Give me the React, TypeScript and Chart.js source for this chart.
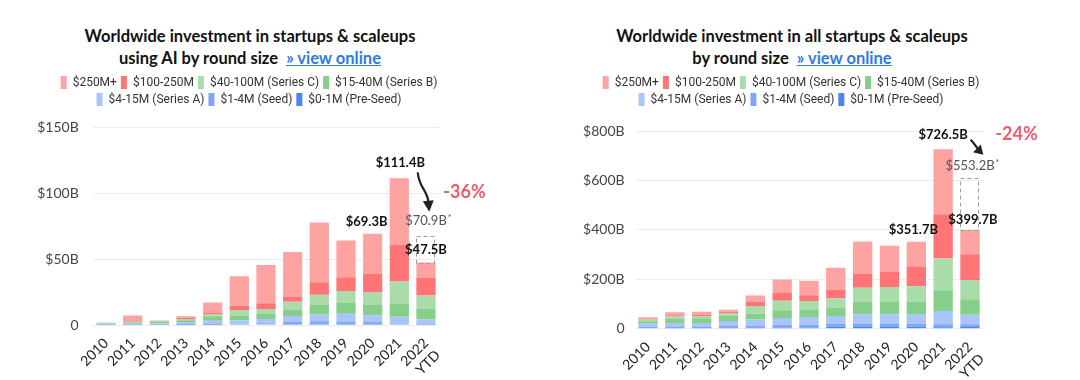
import React, { useEffect, useRef } from 'react';
import { Chart, registerables } from 'chart.js';

Chart.register(...registerables);

// ---------- DATA ----------
const years: (string | string[])[] = ['2010', '2011', '2012', '2013', '2014', '2015', '2016', '2017', '2018', '2019', '2020', '2021', ['2022', 'YTD']];

// legend order is the reverse of the stacking order (bottom segment first)
const seriesNames = ['$0-1M (Pre-Seed)', '$1-4M (Seed)', '$4-15M (Series A)', '$15-40M (Series B)', '$40-100M (Series C)', '$100-250M', '$250M+'];
const seriesColors = ['#4C84F0', '#7EA7F6', '#A9C5FA', '#86CF8B', '#A9DCAA', '#FF7474', '#FFA2A2'];

// AI startups & scaleups ($B)
const aiPreSeed = [0.1, 0.1, 0.1, 0.2, 0.2, 0.3, 0.4, 0.7, 1.0, 1.0, 0.9, 0.4, 0.1];
const aiSeed = [0.3, 0.3, 0.3, 0.6, 0.6, 0.7, 1.0, 1.5, 1.8, 1.3, 1.5, 0.8, 0.2];
const aiSeriesA = [0.8, 0.5, 0.7, 1.5, 2.5, 2.4, 3.1, 4.6, 5.1, 6.2, 5.1, 5.1, 4.1];
const aiSeriesB = [0.4, 0.7, 1.1, 1.3, 3.3, 3.6, 3.8, 4.6, 7.2, 8.2, 7.7, 10.3, 7.7];
const aiSeriesC = [0.3, 0.8, 1.1, 1.0, 1.3, 4.3, 3.8, 6.2, 7.9, 9.2, 9.5, 16.4, 10.3];
const ai100to250 = [0, 0.6, 0.2, 1.0, 1.5, 3.2, 4.4, 4.1, 9.5, 10.3, 14.1, 27.9, 13.3];
const ai250plus = [0, 4.3, 0, 1.0, 7.6, 22.5, 29.0, 33.8, 45.4, 27.9, 30.5, 50.5, 11.8];
const aiYTicks = [0, 50, 100, 150];
const aiTotalLabels = ['$111.4B', '$69.3B', '$47.5B'];
const aiTotals = [111.4, 69.3, 47.5];
const aiProjectionLabel = '$70.9B';
const aiProjectionBoxTop = 67.8;
const aiChangeLabel = '-36%';

// All startups & scaleups ($B)
const allPreSeed = [2, 3, 3, 4, 4, 4, 4, 8, 7, 7, 8, 6, 7];
const allSeed = [6, 5.4, 4, 6.8, 8, 12, 12, 11, 12, 12, 12, 12, 11];
const allSeriesA = [12, 15, 16, 20, 25.6, 27, 31, 32, 39, 39, 36.5, 54, 38];
const allSeriesB = [10, 16, 19, 23, 24.3, 32, 28.4, 35, 51, 50, 53, 84, 63.5];
const allSeriesC = [7, 9.5, 9.5, 8, 29.7, 38, 36.5, 36.5, 57, 61, 62, 128, 78];
const all100to250 = [3, 5.4, 5.4, 6.8, 17.6, 31, 23, 36.5, 55, 62, 80, 179.5, 104];
const all250plus = [6, 12, 12, 8, 25.6, 55, 59.4, 88, 132, 105, 100.2, 263, 98.2];
const allYTicks = [0, 200, 400, 600, 800];
const allTotalLabels = ['$726.5B', '$351.7B', '$399.7B'];
const allTotals = [726.5, 351.7, 399.7];
const allProjectionLabel = '$553.2B';
const allProjectionBoxTop = 609;
const allChangeLabel = '-24%';

// ---------- STYLE ----------
const BOLD_LABEL = '700 13px Lato';
const PROJ_LABEL = '400 13px Lato';
const CHANGE_FONT = '700 18px Lato';
const CHANGE_COLOR = '#F05A6A';

type Anchor = { index: number; value: number; dx: number; dy: number };

function calloutPlugin(spec: any) {
  return {
    id: 'callouts',
    afterDatasetsDraw(chart: any) {
      const { ctx } = chart;
      const xs = chart.scales.x;
      const ys = chart.scales.y;
      const P = (a: Anchor) => [xs.getPixelForValue(a.index) + a.dx, ys.getPixelForValue(a.value) + a.dy];
      ctx.save();
      // dashed projection box
      const bar = chart.getDatasetMeta(0).data[spec.box.index];
      const bw = bar.width;
      const cx = xs.getPixelForValue(spec.box.index);
      const yT = ys.getPixelForValue(spec.box.to);
      const yB = ys.getPixelForValue(spec.box.from);
      ctx.setLineDash([4, 3]);
      ctx.strokeStyle = '#9c9c9c';
      ctx.lineWidth = 1;
      ctx.strokeRect(Math.round(cx - bw / 2) + 0.5, Math.round(yT) + 0.5, Math.round(bw) - 1, Math.round(yB - yT));
      ctx.setLineDash([]);
      // texts
      ctx.textBaseline = 'middle';
      for (const l of spec.labels) {
        const [X, Y] = P(l);
        ctx.font = l.font;
        ctx.fillStyle = l.color;
        ctx.textAlign = 'center';
        ctx.fillText(l.text, X, Y);
        if (l.suffix) {
          const w = ctx.measureText(l.text).width;
          ctx.font = '400 9px Lato';
          ctx.textAlign = 'left';
          ctx.fillText(l.suffix, X + w / 2 + 1, Y - 3);
        }
      }
      // arrow
      const a = spec.arrow;
      const [sx, sy] = P(a.from);
      const [tx, ty] = P(a.to);
      const c1 = [sx + a.c1[0], sy + a.c1[1]];
      const c2 = [tx + a.c2[0], ty + a.c2[1]];
      let ux = tx - c2[0];
      let uy = ty - c2[1];
      const len = Math.hypot(ux, uy) || 1;
      ux /= len; uy /= len;
      const bx = tx - ux * a.head;
      const by = ty - uy * a.head;
      ctx.strokeStyle = '#222';
      ctx.fillStyle = '#222';
      ctx.lineWidth = a.lineWidth;
      ctx.beginPath();
      ctx.moveTo(sx, sy);
      ctx.bezierCurveTo(c1[0], c1[1], c2[0], c2[1], bx + ux * 1, by + uy * 1);
      ctx.stroke();
      ctx.beginPath();
      ctx.moveTo(tx, ty);
      ctx.lineTo(bx - uy * a.headW / 2, by + ux * a.headW / 2);
      ctx.lineTo(bx + uy * a.headW / 2, by - ux * a.headW / 2);
      ctx.closePath();
      ctx.fill();
      ctx.restore();
    },
  };
}

type PanelProps = {
  left: number;
  width: number;
  padL: number;
  padR: number;
  series: number[][];
  yTicks: number[];
  yWidth: number;
  yPad: number;
  rightGap: number;
  topGap: number;
  xHeight: number;
  spec: any;
};

function BarPanel(p: PanelProps) {
  const ref = useRef<HTMLCanvasElement | null>(null);
  useEffect(() => {
    if (!ref.current) return;
    const step = p.yTicks[1] - p.yTicks[0];
    const chart = new Chart(ref.current, {
      type: 'bar',
      data: {
        labels: years as any,
        datasets: p.series.map((d, i) => ({
          label: seriesNames[i],
          data: d,
          backgroundColor: seriesColors[i],
          borderWidth: 0,
          barPercentage: 0.72,
          categoryPercentage: 1,
          stack: 's',
        })),
      },
      options: {
        responsive: false,
        animation: false,
        layout: { padding: { top: 12, left: p.padL, right: p.padR, bottom: 0 } },
        plugins: {
          tooltip: { enabled: false },
          legend: {
            position: 'top',
            align: 'center',
            reverse: true,
            labels: {
              boxWidth: 6,
              boxHeight: 13,
              padding: 4,
              color: '#333',
              font: { family: 'Roboto', size: 12 },
            },
          },
        },
        scales: {
          x: {
            stacked: true,
            grid: { display: false },
            border: { display: false },
            ticks: {
              autoSkip: false,
              minRotation: 45,
              maxRotation: 45,
              padding: 2,
              color: '#222',
              font: { family: 'Lato', size: 14 },
            },
            afterFit: (s: any) => { s.height = p.xHeight; },
          },
          xTop: {
            type: 'category',
            position: 'top',
            display: true,
            grid: { display: false },
            border: { display: false },
            ticks: { display: false },
            afterFit: (s: any) => { s.height = p.topGap; },
          },
          y: {
            stacked: true,
            min: p.yTicks[0],
            max: p.yTicks[p.yTicks.length - 1],
            ticks: {
              stepSize: step,
              padding: p.yPad,
              color: '#444',
              font: { family: 'Lato', size: 14 },
              callback: (v: any) => (Number(v) === 0 ? '0' : `$${v}B`),
            },
            grid: { color: 'rgba(0,0,0,0.07)', drawTicks: false },
            border: { display: false },
            afterFit: (s: any) => { s.width = p.yWidth; },
          },
          yRight: {
            type: 'linear',
            position: 'right',
            display: true,
            grid: { display: false },
            border: { display: false },
            ticks: { display: false },
            afterFit: (s: any) => { s.width = p.rightGap; },
          },
        },
      } as any,
      plugins: [calloutPlugin(p.spec)],
    });
    return () => chart.destroy();
  }, []);
  return (
    <canvas
      ref={ref}
      width={p.width}
      height={320}
      style={{ position: 'absolute', left: p.left, top: 60, width: p.width, height: 320 }}
    />
  );
}

const aiSpec = {
  box: { index: 12, from: aiTotals[2], to: aiProjectionBoxTop },
  labels: [
    { text: aiTotalLabels[0], index: 11, value: aiTotals[0], dx: 1, dy: -15.5, font: BOLD_LABEL, color: '#111' },
    { text: aiTotalLabels[1], index: 10, value: aiTotals[1], dx: -6, dy: -12, font: BOLD_LABEL, color: '#111' },
    { text: aiTotalLabels[2], index: 12, value: aiTotals[2], dx: 0, dy: -12.5, font: BOLD_LABEL, color: '#111' },
    { text: aiProjectionLabel, suffix: '*', index: 12, value: aiProjectionBoxTop, dx: 0, dy: -14.7, font: PROJ_LABEL, color: '#555' },
    { text: aiChangeLabel, index: 12, value: aiTotals[0], dx: 38.5, dy: 13.4, font: CHANGE_FONT, color: CHANGE_COLOR },
  ],
  arrow: {
    from: { index: 11, value: aiTotals[0], dx: 18.4, dy: -6 },
    to: { index: 12, value: aiProjectionBoxTop, dx: 3.3, dy: -24 },
    c1: [1.5, 16],
    c2: [-2, -22],
    head: 11,
    headW: 11,
    lineWidth: 2.2,
  },
};

const allSpec = {
  box: { index: 12, from: allTotals[2], to: allProjectionBoxTop },
  labels: [
    { text: allTotalLabels[0], index: 11, value: allTotals[0], dx: 0, dy: -14.5, font: BOLD_LABEL, color: '#111' },
    { text: allTotalLabels[1], index: 10, value: allTotals[1], dx: -3, dy: -12, font: BOLD_LABEL, color: '#111' },
    { text: allTotalLabels[2], index: 12, value: allTotals[2], dx: 3, dy: -10, font: BOLD_LABEL, color: '#111' },
    { text: allProjectionLabel, suffix: '*', index: 12, value: allProjectionBoxTop, dx: 0, dy: -12.4, font: PROJ_LABEL, color: '#555' },
    { text: allChangeLabel, index: 12, value: allTotals[0], dx: 46.5, dy: -15.4, font: CHANGE_FONT, color: CHANGE_COLOR },
  ],
  arrow: {
    from: { index: 11, value: allTotals[0], dx: 27.5, dy: -9.4 },
    to: { index: 12, value: allTotals[0], dx: 13.3, dy: 5.6 },
    c1: [4, 4],
    c2: [-5, -5],
    head: 9,
    headW: 11,
    lineWidth: 2.2,
  },
};

const titleStyle: React.CSSProperties = {
  position: 'absolute',
  top: 24.5,
  width: 500,
  textAlign: 'center',
  font: '700 16.5px Lato',
  lineHeight: '22px',
  color: '#111',
  whiteSpace: 'nowrap',
};
const linkStyle: React.CSSProperties = { color: '#2E7BE6', textDecoration: 'underline' };

export default function App() {
  return (
    <div style={{ position: 'fixed', left: 0, top: 0, width: 1080, height: 380, background: '#fff', overflow: 'hidden' }}>
      <div style={{ ...titleStyle, left: 0 }}>
        Worldwide investment in startups &amp; scaleups
        <br />
        using AI by round size&nbsp;&nbsp;<span style={linkStyle}>» view online</span>
      </div>
      <div style={{ ...titleStyle, left: 542 }}>
        Worldwide investment in all startups &amp; scaleups
        <br />
        by round size&nbsp;&nbsp;<span style={linkStyle}>» view online</span>
      </div>
      <BarPanel
        left={0}
        width={500}
        padL={20}
        padR={22}
        series={[aiPreSeed, aiSeed, aiSeriesA, aiSeriesB, aiSeriesC, ai100to250, ai250plus]}
        yTicks={aiYTicks}
        yWidth={72.7}
        yPad={14}
        rightGap={38.7}
        topGap={11.5}
        xHeight={55}
        spec={aiSpec}
      />
      <BarPanel
        left={537}
        width={508}
        padL={25}
        padR={25}
        series={[allPreSeed, allSeed, allSeriesA, allSeriesB, allSeriesC, all100to250, all250plus]}
        yTicks={allYTicks}
        yWidth={72.6}
        yPad={10}
        rightGap={36.6}
        topGap={15}
        xHeight={51.3}
        spec={allSpec}
      />
    </div>
  );
}
